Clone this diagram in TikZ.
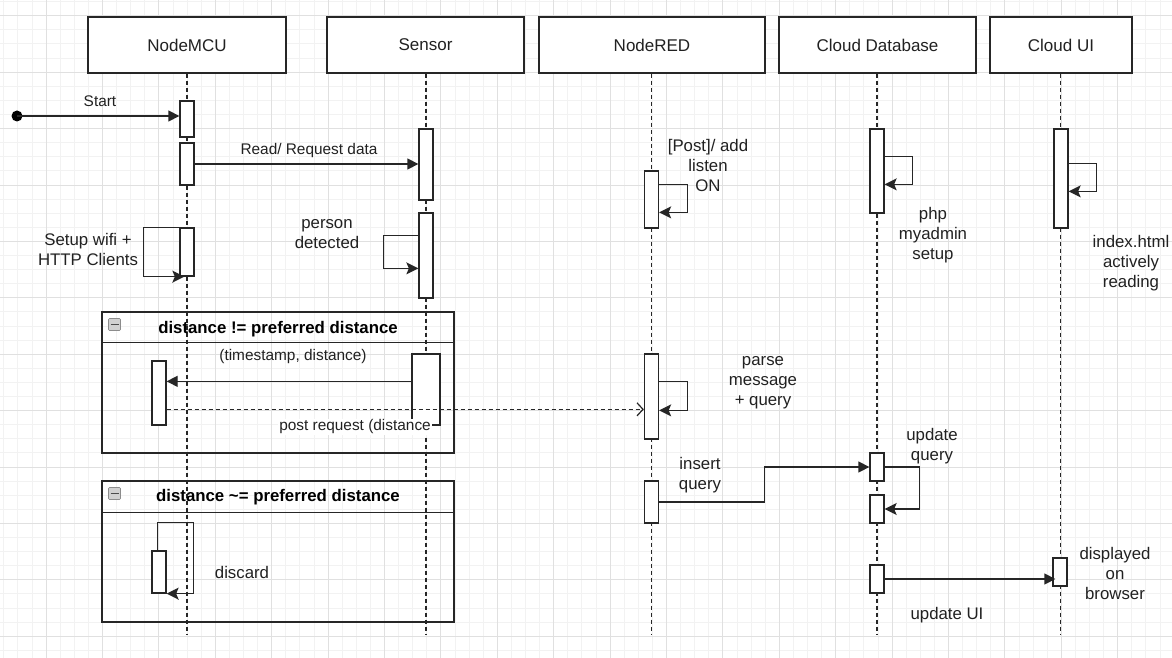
\documentclass[tikz,border=0pt]{standalone}
\usepackage{fontspec}
\setmainfont{Liberation Sans}
\usetikzlibrary{arrows.meta}
\definecolor{gridlight}{rgb}{0.95,0.95,0.95}
\definecolor{griddark}{rgb}{0.88,0.88,0.88}
\definecolor{linegray}{rgb}{0.15,0.15,0.15}
\definecolor{textgray}{rgb}{0.13,0.13,0.13}
\tikzset{
  actor/.style={draw=linegray,line width=1.3pt,fill=white,minimum height=56pt,inner sep=0pt,
    text=textgray,font=\fontsize{17}{20}\selectfont},
  act/.style={draw=linegray,line width=1.3pt,fill=white,minimum width=14pt,inner sep=0pt},
  lifeline/.style={draw=linegray,line width=1.2pt,dash pattern=on 4pt off 3pt},
  msg/.style={draw=linegray,line width=1.3pt,-{Triangle[length=11pt,width=11pt]}},
  loopmsg/.style={draw=linegray,line width=1.3pt,-{Stealth[length=12pt,width=12pt,inset=2.5pt]}},
  dmsg/.style={draw=linegray,line width=1.2pt,dash pattern=on 4pt off 3pt,-{Straight Barb[length=6pt,width=13pt]}},
  frag/.style={draw=linegray,line width=1.3pt,inner sep=0pt},
  fragtitle/.style={inner sep=1pt,text=black,font=\fontsize{16.8}{20}\selectfont\bfseries},
  lbl/.style={align=center,inner sep=1pt,text=textgray,font=\fontsize{16.8}{20}\selectfont},
  elbl/.style={align=center,inner sep=1pt,text=textgray,font=\fontsize{15.4}{20}\selectfont}
}
\begin{document}
\begin{tikzpicture}[x=1pt,y=-1pt,line cap=butt,line join=miter]
\useasboundingbox (0,0) rectangle (1172,658);
\fill[white] (0,0) rectangle (1172,658);
% grid
\foreach \k in {-3,...,80}
\draw[gridlight,line width=0.8pt] ({46+14.1*\k},0) -- ({46+14.1*\k},658);
\foreach \k in {-1,...,45}
\draw[gridlight,line width=0.8pt] (0,{15.7+14.1*\k}) -- (1172,{15.7+14.1*\k});
\foreach \k in {0,...,20}
\draw[griddark,line width=0.8pt] ({46+56.4*\k},0) -- ({46+56.4*\k},658);
\foreach \k in {0,...,11}
\draw[griddark,line width=0.8pt] (0,{15.7+56.4*\k}) -- (1172,{15.7+56.4*\k});

% participants
\node[actor,minimum width=198pt] (mcu) at (187,45) {NodeMCU};
\node[actor,minimum width=197pt] (sensor) at (425.5,45) {Sensor};
\node[actor,minimum width=226pt] (nodered) at (652,45) {NodeRED};
\node[actor,minimum width=197pt] (clouddb) at (877.5,45) {Cloud Database};
\node[actor,minimum width=142pt] (cloudui) at (1061,45) {Cloud UI};

% lifelines
\coordinate (mcuEnd) at (187,635);
\coordinate (sensorEnd) at (426,635);
\coordinate (noderedEnd) at (651.5,635);
\coordinate (clouddbEnd) at (877,635);
\coordinate (clouduiEnd) at (1060.5,635);
\draw[lifeline] (mcu.south -| mcuEnd) -- (mcuEnd);
\draw[lifeline] (sensor.south -| sensorEnd) -- (sensorEnd);
\draw[lifeline] (nodered.south -| noderedEnd) -- (noderedEnd);
\draw[lifeline] (clouddb.south -| clouddbEnd) -- (clouddbEnd);
\draw[lifeline] (cloudui.south -| clouduiEnd) -- (clouduiEnd);

% fragments
\node[frag,minimum width=352pt,minimum height=141pt] (fragA) at (278,382.5) {};
\draw[frag] ([yshift=-31pt]fragA.north west) -- ([yshift=-31pt]fragA.north east);
\node[fragtitle] at (278,329) {distance != preferred distance};
\node[frag,minimum width=352pt,minimum height=141pt] (fragB) at (278,551.5) {};
\draw[frag] ([yshift=-32pt]fragB.north west) -- ([yshift=-32pt]fragB.north east);
\node[fragtitle] at (278,497) {distance \char`~= preferred distance};
\foreach \y in {324.5,493.5}{
\draw[black!45,fill=black!18,line width=0.6pt,rounded corners=1pt] (108.5,\y-6) rectangle (120.5,\y+6);
\draw[black!70,line width=1.6pt] (110.5,\y) -- (118.5,\y);
}

% activations
\node[act,minimum height=36pt] (mcuA1) at (187,119) {};
\node[act,minimum height=42pt] (mcuA2) at (187,164) {};
\node[act,minimum height=48pt] (mcuA3) at (187,252) {};
\node[act,minimum height=71pt] (senA1) at (426,164.5) {};
\node[act,minimum height=85pt] (senA2) at (426,255.5) {};
\node[act,minimum height=57pt] (redA1) at (651.5,199.5) {};
\node[act,minimum height=84pt] (dbA1) at (877,171) {};
\node[act,minimum height=99pt] (uiA1) at (1061,178.5) {};
\node[act,minimum height=64pt] (mcuA4) at (159,393) {};
\node[act,minimum height=71pt,minimum width=28pt] (senA3) at (426,389.5) {};
\node[act,minimum height=85pt] (redA2) at (651.5,396.5) {};
\node[act,minimum height=42pt] (redA3) at (651.5,502) {};
\node[act,minimum height=28pt] (dbA2) at (877,467) {};
\node[act,minimum height=28pt] (dbA3) at (877,509) {};
\node[act,minimum height=28pt] (dbA4) at (877,579) {};
\node[act,minimum height=28pt] (uiA2) at (1060,572) {};
\node[act,minimum height=42pt] (mcuA5) at (159,572) {};

% messages
\coordinate (start) at (17,116);
\fill[black] (start) circle (5.5pt);
\draw[msg] (start) -- (start -| mcuA1.west);
\node[elbl] at (100,101) {Start};
\draw[msg] (mcuA2.east) -- (mcuA2.east -| senA1.west);
\node[elbl] at (309,151) {Read/ Request data};
\draw[loopmsg] (mcuA3.north west) -- ++(-36,0) |- ([xshift=5pt]mcuA3.south west);
\node[lbl] at (88,249) {Setup wifi +\\HTTP Clients};
\draw[loopmsg] ([yshift=-23pt]senA2.north west) -- ++(-35,0) |- ([yshift=-56pt]senA2.north west);
\node[lbl] at (327,234) {person\\detected};
\draw[loopmsg] ([yshift=-14pt]redA1.north east) -- ++(28,0) |- ([yshift=-42pt]redA1.north east);
\node[lbl] at (708,165) {[Post]/ add\\listen\\ON};
\draw[loopmsg] ([yshift=-28pt]dbA1.north east) -- ++(28,0) |- ([yshift=-56pt]dbA1.north east);
\node[lbl] at (933,235) {php\\myadmin\\setup};
\draw[loopmsg] ([yshift=-35pt]uiA1.north east) -- ++(28,0) |- ([yshift=-63pt]uiA1.north east);
\node[lbl] at (1131,263) {index.html\\actively\\reading};

\coordinate (ts) at ([yshift=-28pt]senA3.north west);
\draw[msg] (ts) -- (ts -| mcuA4.east);
\node[elbl] at (293,357) {(timestamp, distance)};
\coordinate (post) at ([yshift=-49pt]mcuA4.north east);
\draw[dmsg] (post) -- (post -| redA2.west);
\node[elbl,fill=white,anchor=east] at (432,427) {post request (distance};
\draw[loopmsg] ([yshift=-28pt]redA2.north east) -- ++(28,0) |- ([yshift=-57pt]redA2.north east);
\node[lbl] at (763,383) {parse\\message\\+ query};

\draw[msg] (redA3.east) -- ++(105,0) |- (dbA2.west);
\node[lbl] at (700,475) {insert\\query};
\draw[loopmsg] (dbA2.east) -- ++(35,0) |- (dbA3.east);
\node[lbl] at (932,446) {update\\query};
\draw[msg] (dbA4.east) -- ([xshift=3pt]dbA4.east -| uiA2.west);
\node[lbl] at (947,615) {update UI};
\node[lbl] at (1115,573) {displayed\\on\\browser};

\draw[loopmsg] ([xshift=6pt]mcuA5.north west) -- ++(0,-28) -- ++(36,0) |- (mcuA5.south east);
\node[lbl] at (242,572) {discard};
\end{tikzpicture}
\end{document}
